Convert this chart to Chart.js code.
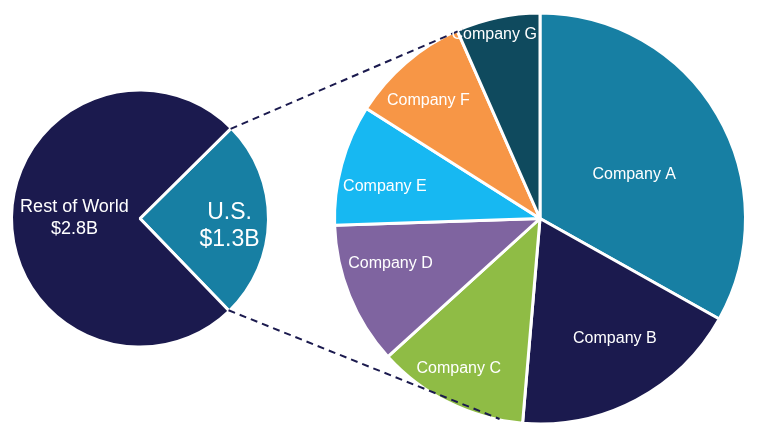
<!DOCTYPE html>
<html><head><meta charset="utf-8">
<script src="https://cdn.jsdelivr.net/npm/chart.js@4.4.1/dist/chart.umd.min.js"></script>
<style>
html,body{margin:0;padding:0;background:#fff;overflow:hidden}
#wrap{position:relative;width:764px;height:434px}
#wrap canvas{position:absolute;left:0;top:0}
</style></head>
<body><div id="wrap"><canvas id="left" width="764" height="434" style="width:764px;height:434px"></canvas><canvas id="right" width="764" height="434" style="width:764px;height:434px"></canvas></div>
<script>
// ---- data ----
const regionNames = ['U.S.', 'Rest of World'];
const regionValueLabels = ['$1.3B', '$2.8B'];
const regionShares = [25.2, 74.8];          // share of the circle (%)
const companyNames = ['Company A', 'Company B', 'Company C', 'Company D', 'Company E', 'Company F', 'Company G'];
const companyShares = [33.1, 18.2, 11.9, 11.2, 9.5, 9.4, 6.6]; // % of U.S. market

// ---- styling / layout ----
const regionColors = ['#177fa3', '#1b1a4e'];
const companyColors = ['#177fa3', '#1b1a4e', '#8fbc45', '#7f64a0', '#17b8f2', '#f79646', '#0f4a5e'];
const BW = 3;
const FONT = '"Liberation Sans", Arial, sans-serif';
// label placement: [fraction along slice, radius factor]
const regionLabelAt = [[0.55, 0.70], [0.5, 0.51]];
const companyLabelAt = [[0.547, 0.505], [0.44, 0.69], [0.55, 0.83], [0.63, 0.76], [0.39, 0.77], [0.42, 0.79], [0.41, 0.92]];
const connectorAngles = [337.7, 191.4]; // degrees clockwise from top on the right pie

function pad(cx, cy, R) {
  const h = R + BW;
  return {left: cx - h, right: 764 - cx - h, top: cy - h, bottom: 434 - cy - h};
}

function drawLabels(chart, at, lines, fonts, lineGap) {
  const ctx = chart.ctx;
  const meta = chart.getDatasetMeta(0);
  ctx.save();
  ctx.fillStyle = '#ffffff';
  ctx.textAlign = 'center';
  ctx.textBaseline = 'middle';
  meta.data.forEach((arc, i) => {
    const p = arc.getProps(['x', 'y', 'startAngle', 'endAngle', 'outerRadius'], true);
    const a = p.startAngle + at[i][0] * (p.endAngle - p.startAngle);
    const r = p.outerRadius * at[i][1];
    const x = p.x + Math.cos(a) * r, y = p.y + Math.sin(a) * r;
    const ls = lines(i);
    ctx.font = fonts(i);
    const g = lineGap(i);
    ls.forEach((t, k) => ctx.fillText(t, x, y + (k - (ls.length - 1) / 2) * g));
  });
  ctx.restore();
}

const leftChart = new Chart(document.getElementById('left'), {
  type: 'pie',
  data: {labels: regionNames, datasets: [{data: regionShares, backgroundColor: regionColors, borderColor: '#ffffff', borderWidth: BW}]},
  options: {
    responsive: false, animation: false, devicePixelRatio: 1, rotation: 45.3,
    layout: {padding: pad(140, 218.5, 127)},
    plugins: {legend: {display: false}, tooltip: {enabled: false}}
  },
  plugins: [{
    id: 'regionLabels',
    afterDatasetsDraw(chart) {
      drawLabels(chart, regionLabelAt,
        i => [regionNames[i], regionValueLabels[i]],
        i => (i === 0 ? '23px ' : '18px ') + FONT,
        i => (i === 0 ? 27 : 22));
    }
  }]
});

const rightChart = new Chart(document.getElementById('right'), {
  type: 'pie',
  data: {labels: companyNames, datasets: [{data: companyShares, backgroundColor: companyColors, borderColor: '#ffffff', borderWidth: BW}]},
  options: {
    responsive: false, animation: false, devicePixelRatio: 1, rotation: 0,
    layout: {padding: pad(540, 218.5, 204)},
    plugins: {legend: {display: false}, tooltip: {enabled: false}}
  },
  plugins: [{
    id: 'connectors',
    afterDatasetsDraw(chart) {
      const la = leftChart.getDatasetMeta(0).data[0].getProps(['x', 'y', 'startAngle', 'endAngle', 'outerRadius'], true);
      const ra = chart.getDatasetMeta(0).data[0].getProps(['x', 'y', 'outerRadius'], true);
      const ctx = chart.ctx;
      const lr = la.outerRadius - 1, rr = ra.outerRadius - 1;
      const starts = [la.startAngle, la.endAngle];
      ctx.save();
      ctx.strokeStyle = '#1b1a4e';
      ctx.lineWidth = 2;
      ctx.setLineDash([7, 5]);
      starts.forEach((s, k) => {
        const th = connectorAngles[k] * Math.PI / 180;
        ctx.beginPath();
        ctx.moveTo(la.x + Math.cos(s) * lr, la.y + Math.sin(s) * lr);
        ctx.lineTo(ra.x + Math.sin(th) * rr, ra.y - Math.cos(th) * rr);
        ctx.stroke();
      });
      ctx.restore();
      drawLabels(chart, companyLabelAt, i => [companyNames[i]], i => '16px ' + FONT, i => 0);
    }
  }]
});
</script>
</body></html>
